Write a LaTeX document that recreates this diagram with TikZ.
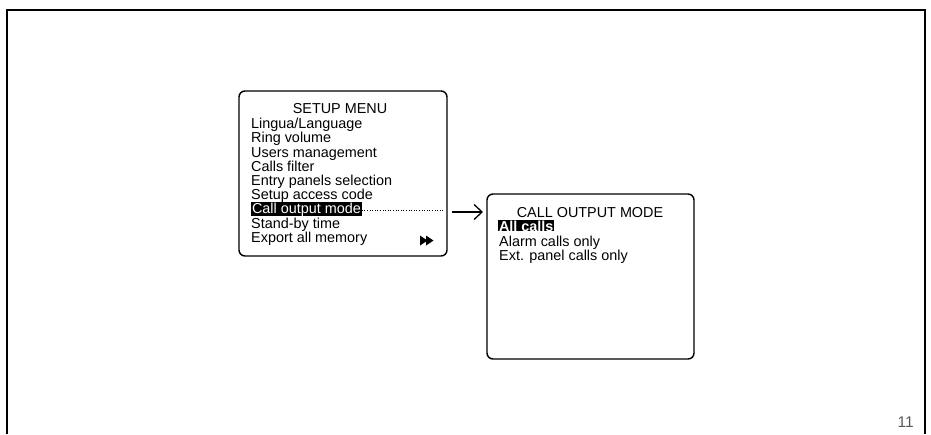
\documentclass[tikz,border=0pt]{standalone}
\usepackage{fontspec}
\setmainfont{Liberation Sans}
\usetikzlibrary{arrows.meta}
\begin{document}
\begin{tikzpicture}[x=1pt,y=-1pt,
  menubox/.style={draw=black,line width=1.4pt,rounded corners=6pt},
  item/.style={anchor=base west,inner sep=0pt,font=\fontsize{14.4}{14}\selectfont},
  title/.style={anchor=base,inner sep=0pt,font=\fontsize{14.4}{14}\selectfont},
  hilite/.style={item,fill=black,text=white,inner xsep=0.8pt,inner ysep=0.2pt},
  frame/.style={line width=2pt,black}]
\useasboundingbox (0,0) rectangle (931,434);
% page frame
\draw[frame] (7,434) -- (7,10) -- (925,10) -- (925,434);
% left box
\draw[menubox] (239,91) rectangle (447,256);
\node[title] (t1) at (340,113) {SETUP MENU};
\node[item] (l1) at (251,128) {Lingua/Language};
\node[item] (l2) at (251,142) {Ring volume};
\node[item] (l3) at (251,157) {Users management};
\node[item] (l4) at (251,171) {Calls filter};
\node[item] (l5) at (251,185) {Entry panels selection};
\node[item] (l6) at (251,199) {Setup access code};
\node[hilite] (l7) at (251,213) {Call output mode};
\node[item] (l8) at (251,228) {Stand-by time};
\node[item] (l9) at (251,242) {Export all memory};
\fill (420,235.5) -- (427.5,240.5) -- (420,245.5) -- cycle;
\fill (426,235.5) -- (433.5,240.5) -- (426,245.5) -- cycle;
% connector
\coordinate (dotend) at (443,210.5);
\draw[dotted,line width=0.6pt] (l7.east |- dotend) -- (dotend);
\coordinate (arrstart) at (452,212);
\coordinate (arrend) at (483,212);
\draw[line width=1.3pt,-{Straight Barb[length=8pt,width=15pt,line width=1.3pt]}] (arrstart) -- (arrend);
% right box
\draw[menubox] (487,194) rectangle (694,359);
\node[title] (t2) at (590,217) {CALL OUTPUT MODE};
\node[hilite,font=\fontsize{14.4}{14}\selectfont\bfseries] (r1) at (498,231) {All calls};
\node[item] (r2) at (499,246) {Alarm calls only};
\node[item] (r3) at (499,260) {Ext. panel calls only};
% page number
\node[anchor=base east,inner sep=0pt,text=black!65,font=\fontsize{15.5}{16}\selectfont] (pn) at (914,427) {11};
\end{tikzpicture}
\end{document}
